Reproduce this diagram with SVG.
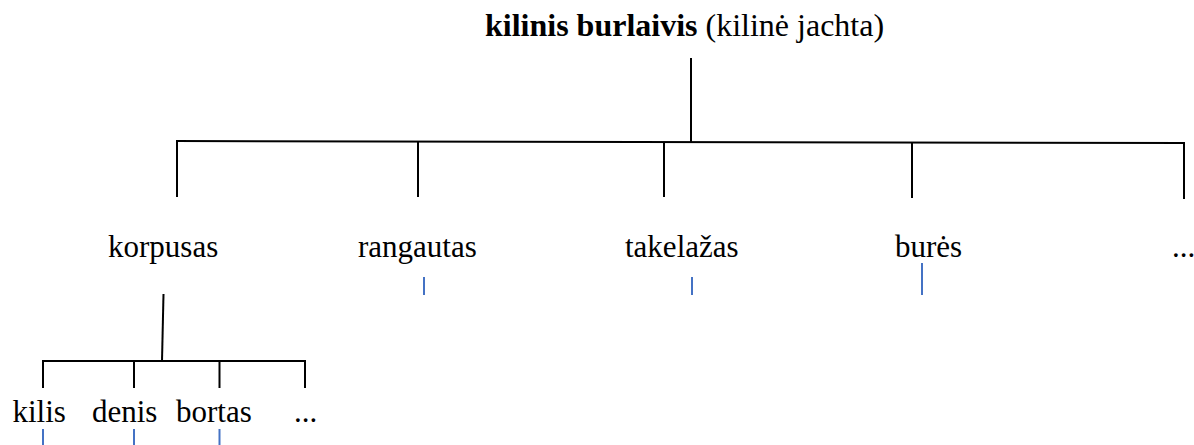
<svg xmlns="http://www.w3.org/2000/svg" width="1194" height="445" viewBox="0 0 1194 445">
<style>
text{font-family:'Liberation Serif','Times New Roman',Times,'DejaVu Serif',serif;font-size:31px;fill:#000}
.title{font-size:32px}
.k{stroke:#000;stroke-width:2;fill:none}
.b{stroke:#4472C4;stroke-width:2;fill:none}
</style>
<rect width="1194" height="445" fill="#fff"/>
<g id="connectors">
<line class="k" x1="691" y1="58" x2="691" y2="142"/>
<line class="k" x1="176" y1="141" x2="1185" y2="143"/>
<line class="k" x1="177" y1="141" x2="177" y2="197"/>
<line class="k" x1="418" y1="141" x2="418" y2="197"/>
<line class="k" x1="664" y1="142" x2="664" y2="197"/>
<line class="k" x1="912" y1="142" x2="912" y2="198"/>
<line class="k" x1="1184" y1="143" x2="1184" y2="199"/>
<line class="b" x1="424" y1="277" x2="424" y2="295"/>
<line class="b" x1="692" y1="277" x2="692" y2="295"/>
<line class="b" x1="922" y1="263" x2="922" y2="295"/>
<line class="k" x1="163.5" y1="294" x2="162" y2="361"/>
<line class="k" x1="42" y1="361" x2="306" y2="361"/>
<line class="k" x1="43" y1="361" x2="43" y2="388"/>
<line class="k" x1="134" y1="361" x2="134" y2="388"/>
<line class="k" x1="219.5" y1="361" x2="219.5" y2="388"/>
<line class="k" x1="305" y1="361" x2="305" y2="388"/>
<line class="b" x1="43" y1="429" x2="43" y2="445"/>
<line class="b" x1="134" y1="429" x2="134" y2="445"/>
<line class="b" x1="219.5" y1="429" x2="219.5" y2="445"/>
</g>
<g id="root"><text class="title" x="485" y="36"><tspan font-weight="bold">kilinis burlaivis</tspan> (kilinė jachta)</text></g>
<g id="korpusas"><text x="108" y="257">korpusas</text></g>
<g id="rangautas"><text x="358" y="257">rangautas</text></g>
<g id="takelazas"><text x="625" y="257">takelažas</text></g>
<g id="bures"><text x="895" y="257">burės</text></g>
<g id="more1"><text x="1172" y="257">...</text></g>
<g id="kilis"><text x="12.5" y="422">kilis</text></g>
<g id="denis"><text x="92" y="422">denis</text></g>
<g id="bortas"><text x="176" y="422">bortas</text></g>
<g id="more2"><text x="294" y="422">...</text></g>
</svg>
